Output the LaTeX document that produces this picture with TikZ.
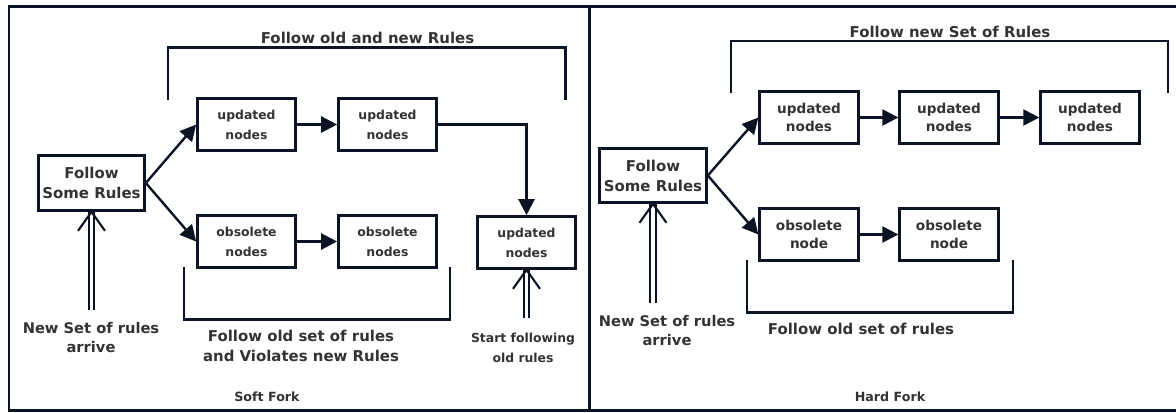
\documentclass[tikz,border=0pt]{standalone}
\usepackage{fontspec}
\setmainfont{DejaVu Sans}
\usetikzlibrary{arrows.meta,calc}
\definecolor{linec}{HTML}{0B1424}
\definecolor{textc}{HTML}{333333}
\begin{document}
\begin{tikzpicture}[x=0.75pt,y=-0.75pt,
  every node/.style={text=textc, align=center},
  frame/.style={draw=linec, line width=2.2pt},
  bracket/.style={draw=linec, line width=2pt},
  box/.style={draw=linec, line width=2pt, inner sep=0pt, minimum width=73.5pt, minimum height=39pt,
              font=\bfseries\fontsize{9.3pt}{15pt}\selectfont},
  rbox/.style={box, minimum width=74pt, font=\bfseries\fontsize{10.2pt}{13.8pt}\selectfont},
  rulebox/.style={box, font=\bfseries\fontsize{11.2pt}{15pt}\selectfont},
  lbl/.style={inner sep=0pt, font=\bfseries\fontsize{11.2pt}{15pt}\selectfont},
  smalllbl/.style={inner sep=0pt, font=\bfseries\fontsize{9.3pt}{15pt}\selectfont},
  title/.style={inner sep=0pt, font=\bfseries\fontsize{9.5pt}{12pt}\selectfont},
  flow/.style={draw=linec, line width=1.8pt, -{Triangle[length=12pt,width=12pt]}},
  dbl/.style={draw=linec, line width=1.6pt, double=white, double distance=2.5pt},
  vhead/.style={draw=linec, line width=1.6pt, line join=miter}
]
\useasboundingbox (0,0) rectangle (1176,412);

% panel frames
\draw[frame] (1176,6.5) -- (9,6.5) -- (9,410.5) -- (1176,410.5);
\draw[frame] (589.5,6.5) -- (589.5,410.5);

% ---------------- soft fork ----------------
\node[rulebox, minimum width=79.5pt, minimum height=41.25pt] (fL) at (91.5,183) {Follow\\Some Rules};
\node[box] (u1) at (246.5,124.5) {updated\\nodes};
\node[box] (u2) at (387.5,124.5) {updated\\nodes};
\node[box] (o1) at (246.5,241.5) {obsolete\\nodes};
\node[box] (o2) at (387.5,241.5) {obsolete\\nodes};
\node[box] (u3) at (526.5,242.5) {updated\\nodes};

\draw[flow] (fL.east) -- (u1.west);
\draw[flow] (fL.east) -- (o1.west);
\draw[flow] (u1.east) -- (u2.west);
\draw[flow] (o1.east) -- (o2.west);
\draw[flow] (u2.east) -| (u3.north);

% brackets
\draw[bracket] (168,100) -- (168,47.5) -- (565.5,47.5) -- (565.5,100);
\draw[bracket] (184,267) -- (184,319.5) -- (450,319.5) -- (450,267);

\node[lbl] (tL) at (367.5,38) {Follow old and new Rules};
\node[lbl] (bL) at (301,346) {Follow old set of rules\\and Violates new Rules};

% incoming rules
\coordinate (inL) at (91.5,310);
\node[lbl, font=\bfseries\fontsize{11pt}{14.3pt}\selectfont] (nL) at (91,337.5) {New Set of rules\\arrive};
\draw[dbl] (inL) -- (fL.south);
\draw[vhead] ($(fL.south)+(-13.5,19)$) -- (fL.south) -- ($(fL.south)+(13.5,19)$);

\coordinate (inU) at (526.5,318);
\node[smalllbl] (sU) at (523,348) {Start following\\old rules};
\draw[dbl] (inU) -- (u3.south);
\draw[vhead] ($(u3.south)+(-13.5,19)$) -- (u3.south) -- ($(u3.south)+(13.5,19)$);

\node[title] (soft) at (267,397) {Soft Fork};

% ---------------- hard fork ----------------
\node[rulebox, minimum width=80.25pt, minimum height=40.5pt] (fR) at (653,175.5) {Follow\\Some Rules};
\node[rbox] (r1) at (809,117.5) {updated\\nodes};
\node[rbox] (r2) at (949,117.5) {updated\\nodes};
\node[rbox] (r3) at (1090,117.5) {updated\\nodes};
\node[rbox] (q1) at (809,234.5) {obsolete\\node};
\node[rbox] (q2) at (949,234.5) {obsolete\\node};

\draw[flow] (fR.east) -- (r1.west);
\draw[flow] (fR.east) -- (q1.west);
\draw[flow] (r1.east) -- (r2.west);
\draw[flow] (r2.east) -- (r3.west);
\draw[flow] (q1.east) -- (q2.west);

\draw[bracket] (731,93) -- (731,41) -- (1168,41) -- (1168,93);
\draw[bracket] (747,260) -- (747,312.5) -- (1013,312.5) -- (1013,260);

\node[lbl] (tR) at (950,32) {Follow new Set of Rules};
\node[lbl] (bR) at (861,329) {Follow old set of rules};

\coordinate (inR) at (653,303);
\node[lbl, font=\bfseries\fontsize{11pt}{14.3pt}\selectfont] (nR) at (667,330.5) {New Set of rules\\arrive};
\draw[dbl] (inR) -- (fR.south);
\draw[vhead] ($(fR.south)+(-13.5,19)$) -- (fR.south) -- ($(fR.south)+(13.5,19)$);

\node[title] (hard) at (890,397) {Hard Fork};
\end{tikzpicture}
\end{document}
